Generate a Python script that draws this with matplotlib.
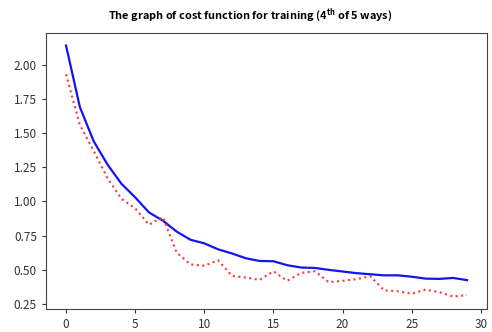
import matplotlib
matplotlib.use('Agg')
import matplotlib.pyplot as plt
import numpy as np

plt.rcParams['font.family'] = ['Noto Sans CJK KR', 'DejaVu Sans']
plt.rcParams['mathtext.fontset'] = 'custom'
plt.rcParams['mathtext.bf'] = 'Noto Sans CJK KR:bold'
plt.rcParams['mathtext.rm'] = 'Noto Sans CJK KR'

# epochs
epochs = list(range(30))

# training cost (blue, solid)
train_cost = [2.14, 1.69, 1.44, 1.27, 1.13, 1.03, 0.92, 0.86, 0.78, 0.72,
              0.694, 0.65, 0.62, 0.585, 0.565, 0.563, 0.534, 0.517, 0.514, 0.50,
              0.488, 0.476, 0.468, 0.46, 0.46, 0.45, 0.436, 0.434, 0.441, 0.425]

# validation cost (red, dotted)
val_cost = [1.93, 1.56, 1.37, 1.17, 1.02, 0.95, 0.83, 0.886, 0.626, 0.54,
            0.53, 0.57, 0.456, 0.444, 0.427, 0.49, 0.42, 0.478, 0.49, 0.41,
            0.42, 0.432, 0.454, 0.35, 0.344, 0.325, 0.356, 0.337, 0.305, 0.315]

fig = plt.figure(figsize=(4.92, 3.32), dpi=100)
ax = fig.add_axes([0.0935, 0.069, 0.8965, 0.8316])

ax.plot(epochs, train_cost, color='#1414f0', linewidth=1.6)
ax.plot(epochs, val_cost, color='#f53a3a', linestyle=':', linewidth=1.5)

ax.set_yticks([0.25, 0.50, 0.75, 1.00, 1.25, 1.50, 1.75, 2.00])
ax.set_yticklabels(['0.25', '0.50', '0.75', '1.00', '1.25', '1.50', '1.75', '2.00'])
ax.tick_params(labelsize=8.5, colors='#333333', length=3)
for s in ax.spines.values():
    s.set_color('#444444')

fig.text(0.508, 0.955, 'The graph of cost function for training (4$^{\\mathbf{th}}$ of 5 ways)',
         ha='center', va='center', fontsize=7.9, fontweight='bold')

fig.savefig('out.png', dpi=100)
